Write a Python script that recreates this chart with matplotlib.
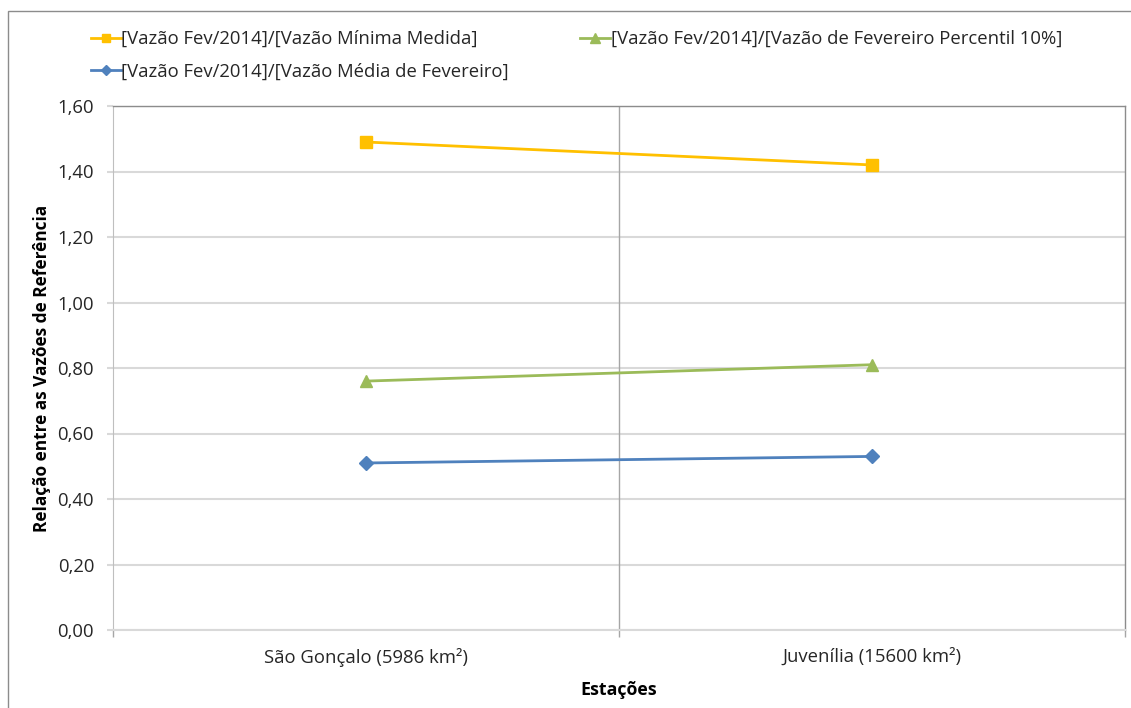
import matplotlib.pyplot as plt
from matplotlib.patches import Rectangle

plt.rcParams['font.family'] = ['Open Sans', 'DejaVu Sans']

estacoes = ['São Gonçalo (5986 km²)', 'Juvenília (15600 km²)']
rel_minima = [1.49, 1.42]
rel_p10 = [0.76, 0.81]
rel_media = [0.51, 0.53]

lbl_minima = '[Vazão Fev/2014]/[Vazão Mínima Medida]'
lbl_p10 = '[Vazão Fev/2014]/[Vazão de Fevereiro Percentil 10%]'
lbl_media = '[Vazão Fev/2014]/[Vazão Média de Fevereiro]'

yticks = [0.0, 0.2, 0.4, 0.6, 0.8, 1.0, 1.2, 1.4, 1.6]

W, H = 1131, 708
fs = 13.3
fig = plt.figure(figsize=(W / 100, H / 100), dpi=100)

# outer chart frame (only top and left edges show)
fig.patches.append(Rectangle((8 / W, -0.1), 1.2, 1 - 11 / H + 0.1,
                             transform=fig.transFigure, fill=False,
                             edgecolor='#8c8c8c', linewidth=1.0))

ax = fig.add_axes([113 / W, 1 - 630 / H, (1125 - 113) / W, (630 - 106) / H])

x = list(range(len(estacoes)))
h_min, = ax.plot(x, rel_minima, color='#FFC000', lw=2.0, marker='s',
                 ms=8.5, label=lbl_minima, zorder=5)
h_p10, = ax.plot(x, rel_p10, color='#9BBB59', lw=2.0, marker='^',
                 ms=9, label=lbl_p10, zorder=5)
h_med, = ax.plot(x, rel_media, color='#4F81BD', lw=2.0, marker='D',
                 ms=7, label=lbl_media, zorder=5)

ax.set_xlim(-0.5, 1.5)
ax.set_ylim(0, 1.6)
ax.set_yticks(yticks)
ax.set_yticklabels([f'{v:.2f}'.replace('.', ',') for v in yticks])
ax.set_xticks(x)
ax.set_xticklabels(estacoes)
ax.set_xticks([-0.5, 0.5, 1.5], minor=True)

ax.grid(axis='y', color='#d9d9d9', lw=1.5)
ax.axvline(0.5, color='#a6a6a6', lw=1.0, zorder=1)
ax.set_axisbelow(True)

for s in ['top', 'right']:
    ax.spines[s].set_color('#8c8c8c')
    ax.spines[s].set_linewidth(1.0)
ax.spines['left'].set_color('#bfbfbf')
ax.spines['bottom'].set_color('#d9d9d9')
ax.spines['bottom'].set_linewidth(1.5)

ax.tick_params(axis='y', length=4.5, width=1.5, color='#d9d9d9', pad=9,
               labelsize=fs, labelcolor='#262626')
ax.tick_params(axis='x', which='major', length=0, pad=13,
               labelsize=fs, labelcolor='#262626')
ax.tick_params(axis='x', which='minor', length=5, width=1.0, color='#a6a6a6')

ax.set_ylabel('Relação entre as Vazões de Referência', fontsize=12.4,
              fontweight='bold', labelpad=4.5, color='#000000')
ax.set_xlabel('Estações', fontsize=12.8, fontweight='bold', labelpad=10,
              color='#000000')

fig.legend(handles=[h_min, h_med, h_p10], ncol=2,
           loc='upper left', bbox_to_anchor=(91 / W, 1 - 30 / H),
           frameon=False, fontsize=fs, handlelength=1.6,
           handletextpad=0.05, columnspacing=3.85, labelspacing=0.8,
           borderpad=0, borderaxespad=0, labelcolor='#262626',
           markerscale=0.75)

fig.savefig('out.png', dpi=100)
